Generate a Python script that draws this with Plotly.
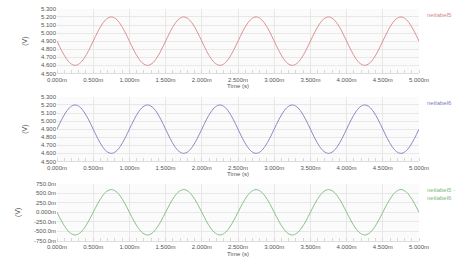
import plotly.graph_objects as go
from plotly.subplots import make_subplots

# time in ms, sampled every 1/16 period
time_ms = [i * 0.0625 for i in range(81)]

netlabel5 = [4.900, 4.785, 4.688, 4.623, 4.600, 4.623, 4.688, 4.785,
             4.900, 5.015, 5.112, 5.177, 5.200, 5.177, 5.112, 5.015,
             4.900, 4.785, 4.688, 4.623, 4.600, 4.623, 4.688, 4.785,
             4.900, 5.015, 5.112, 5.177, 5.200, 5.177, 5.112, 5.015,
             4.900, 4.785, 4.688, 4.623, 4.600, 4.623, 4.688, 4.785,
             4.900, 5.015, 5.112, 5.177, 5.200, 5.177, 5.112, 5.015,
             4.900, 4.785, 4.688, 4.623, 4.600, 4.623, 4.688, 4.785,
             4.900, 5.015, 5.112, 5.177, 5.200, 5.177, 5.112, 5.015,
             4.900, 4.785, 4.688, 4.623, 4.600, 4.623, 4.688, 4.785,
             4.900, 5.015, 5.112, 5.177, 5.200, 5.177, 5.112, 5.015,
             4.900]
netlabel6 = [4.900, 5.015, 5.112, 5.177, 5.200, 5.177, 5.112, 5.015,
             4.900, 4.785, 4.688, 4.623, 4.600, 4.623, 4.688, 4.785,
             4.900, 5.015, 5.112, 5.177, 5.200, 5.177, 5.112, 5.015,
             4.900, 4.785, 4.688, 4.623, 4.600, 4.623, 4.688, 4.785,
             4.900, 5.015, 5.112, 5.177, 5.200, 5.177, 5.112, 5.015,
             4.900, 4.785, 4.688, 4.623, 4.600, 4.623, 4.688, 4.785,
             4.900, 5.015, 5.112, 5.177, 5.200, 5.177, 5.112, 5.015,
             4.900, 4.785, 4.688, 4.623, 4.600, 4.623, 4.688, 4.785,
             4.900, 5.015, 5.112, 5.177, 5.200, 5.177, 5.112, 5.015,
             4.900, 4.785, 4.688, 4.623, 4.600, 4.623, 4.688, 4.785,
             4.900]
diff_mv = [0, -230, -424, -554, -600, -554, -424, -230,
           0, 230, 424, 554, 600, 554, 424, 230,
           0, -230, -424, -554, -600, -554, -424, -230,
           0, 230, 424, 554, 600, 554, 424, 230,
           0, -230, -424, -554, -600, -554, -424, -230,
           0, 230, 424, 554, 600, 554, 424, 230,
           0, -230, -424, -554, -600, -554, -424, -230,
           0, 230, 424, 554, 600, 554, 424, 230,
           0, -230, -424, -554, -600, -554, -424, -230,
           0, 230, 424, 554, 600, 554, 424, 230,
           0]

x_tickvals = [0, 0.5, 1, 1.5, 2, 2.5, 3, 3.5, 4, 4.5, 5]
x_ticktext = ["0.000m", "0.500m", "1.000m", "1.500m", "2.000m", "2.500m",
              "3.000m", "3.500m", "4.000m", "4.500m", "5.000m"]
y12_tickvals = [4.5, 4.6, 4.7, 4.8, 4.9, 5.0, 5.1, 5.2, 5.3]
y12_ticktext = ["4.500", "4.600", "4.700", "4.800", "4.900", "5.000", "5.100", "5.200", "5.300"]
y3_tickvals = [-750, -500, -250, 0, 250, 500, 750]
y3_ticktext = ["-750.0m", "-500.0m", "-250.0m", "0.000m", "250.0m", "500.0m", "750.0m"]

names = ["netlabel5", "netlabel6", "netlabel5 -<br>netlabel6"]
colors = ["#d88686", "#7e7ebe", "#7dba7d"]

W, H = 465, 272
L, R = 57, 419
fig = make_subplots(rows=3, cols=1)

series = [netlabel5, netlabel6, diff_mv]
for i, s in enumerate(series):
    fig.add_trace(go.Scatter(x=time_ms, y=s, mode="lines", line=dict(color=colors[i], width=0.9, shape="spline"),
                             showlegend=False), row=i + 1, col=1)

# pixel boxes (top, bottom)
boxes = [(6, 72), (96, 162), (185, 243)]
font = dict(family="Liberation Sans, Arial, sans-serif", size=6, color="#555555")
for i, (t, b) in enumerate(boxes):
    ax = "" if i == 0 else str(i + 1)
    fig.layout["yaxis" + ax].update(
        domain=[1 - b / H, 1 - t / H],
        range=[4.5, 5.3] if i < 2 else [-750, 750],
        tickvals=y12_tickvals if i < 2 else y3_tickvals,
        ticktext=y12_ticktext if i < 2 else y3_ticktext,
        tickfont=font, showgrid=True, gridcolor="#e8e8e8", gridwidth=1,
        zeroline=False, showline=False, ticks="",
        title=dict(text="(V)", font=dict(family="Liberation Sans, Arial, sans-serif", size=7, color="#555555"), standoff=12),
    )
    fig.layout["xaxis" + ax].update(
        range=[0, 5], tickvals=x_tickvals, ticktext=x_ticktext, tickfont=font,
        showgrid=True, gridcolor="#e8e8e8", zeroline=False,
        showline=True, linecolor="#dddddd", ticks="",
        minor=dict(dtick=0.1, ticks="inside", ticklen=3, tickcolor="#d8d8d8", showgrid=False),
        title=dict(text="Time (s)", font=dict(family="Liberation Sans, Arial, sans-serif", size=6, color="#555555"), standoff=2),
    )
    fig.add_annotation(text=names[i], xref="paper", yref="paper", x=(425 - L) / (R - L),
                       y=1 - (t + 1) / H, xanchor="left", yanchor="top", align="left", showarrow=False,
                       font=dict(family="Liberation Sans, Arial, sans-serif", size=6, color=colors[i]))

fig.update_layout(width=W, height=H, margin=dict(l=L, r=W - R, t=0, b=0),
                  paper_bgcolor="#ffffff", plot_bgcolor="#fbfbfb")
fig.write_html("out.html")
